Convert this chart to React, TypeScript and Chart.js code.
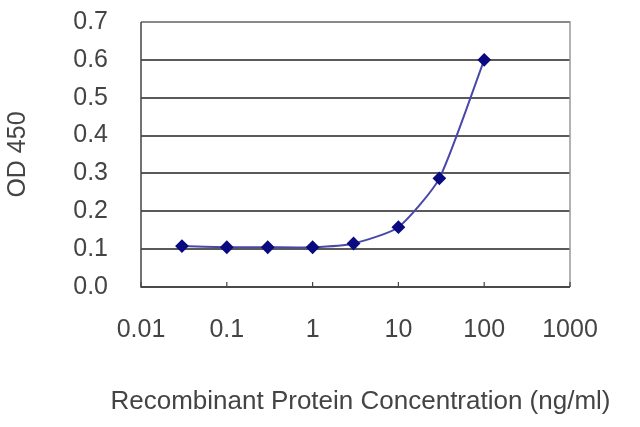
import React, { useEffect, useRef } from "react";
import { Chart, registerables } from "chart.js";

Chart.register(...registerables);

const concentrations = [0.03, 0.1, 0.3, 1, 3, 10, 30, 100];
const odValues = [0.108, 0.105, 0.105, 0.105, 0.115, 0.158, 0.287, 0.6];
const xTickValues = [0.01, 0.1, 1, 10, 100, 1000];
const xTickLabels = ["0.01", "0.1", "1", "10", "100", "1000"];
const yTickLabels = ["0.0", "0.1", "0.2", "0.3", "0.4", "0.5", "0.6", "0.7"];
const xTitle = "Recombinant Protein Concentration (ng/ml)";
const yTitle = "OD 450";

const FONT = "'Liberation Sans', Arial, sans-serif";
const TEXT = "#444";

const framePlugin = {
  id: "frame",
  afterDatasetsDraw(chart: any) {
    const { ctx, chartArea } = chart;
    const x = chart.scales.x;
    ctx.save();
    ctx.strokeStyle = "#999";
    ctx.lineWidth = 1.5;
    ctx.beginPath();
    ctx.moveTo(chartArea.left, chartArea.top);
    ctx.lineTo(chartArea.right, chartArea.top);
    ctx.lineTo(chartArea.right, chartArea.bottom);
    ctx.stroke();
    ctx.strokeStyle = "#444";
    ctx.beginPath();
    ctx.moveTo(chartArea.left, chartArea.top);
    ctx.lineTo(chartArea.left, chartArea.bottom);
    ctx.lineTo(chartArea.right, chartArea.bottom);
    ctx.stroke();
    ctx.lineWidth = 1.2;
    xTickValues.forEach((v) => {
      const px = x.getPixelForValue(v);
      ctx.beginPath();
      ctx.moveTo(px, chartArea.bottom);
      ctx.lineTo(px, chartArea.bottom - 5);
      ctx.stroke();
    });
    // x-axis title, allowed to run past the plot area like the reference
    ctx.fillStyle = TEXT;
    ctx.font = `26px ${FONT}`;
    ctx.textAlign = "center";
    ctx.textBaseline = "middle";
    ctx.fillText(xTitle, (chartArea.left + chartArea.right) / 2 + 5, chartArea.bottom + 115);
    ctx.restore();
  },
};

export default function App() {
  const ref = useRef<HTMLCanvasElement | null>(null);

  useEffect(() => {
    if (!ref.current) return;
    const chart = new Chart(ref.current, {
      type: "line",
      data: {
        datasets: [
          {
            data: concentrations.map((c, i) => ({ x: c, y: odValues[i] })),
            borderColor: "#4848a8",
            borderWidth: 2,
            backgroundColor: "#0a0a80",
            pointBackgroundColor: "#0a0a80",
            pointBorderColor: "#0a0a80",
            pointStyle: "rectRot",
            pointRadius: 5.5,
            tension: 0.2,
            fill: false,
          },
        ],
      },
      options: {
        animation: false,
        responsive: false,
        devicePixelRatio: 1,
        layout: { padding: { top: 22, right: 70, bottom: 0, left: 0 } },
        plugins: { legend: { display: false }, tooltip: { enabled: false } },
        scales: {
          x: {
            type: "logarithmic",
            min: 0.01,
            max: 1000,
            afterBuildTicks: (scale: any) => {
              scale.ticks = xTickValues.map((v) => ({ value: v }));
            },
            afterFit: (scale: any) => {
              scale.height = 140;
            },
            grid: {
              drawOnChartArea: false,
              drawTicks: true,
              tickLength: 28,
              tickColor: "rgba(0,0,0,0)",
              color: "rgba(0,0,0,0)",
            },
            border: { display: false },
            ticks: {
              autoSkip: false,
              maxRotation: 0,
              padding: 0,
              color: TEXT,
              font: { family: FONT, size: 25 },
              callback: (v: any) => {
                const i = xTickValues.indexOf(Number(v));
                return i >= 0 ? xTickLabels[i] : "";
              },
            },
            title: { display: false },
          },
          y: {
            min: 0,
            max: 0.7,
            afterFit: (scale: any) => {
              scale.width = 141;
            },
            grid: {
              color: "#5a5a5a",
              lineWidth: 2,
              drawTicks: true,
              tickLength: 33,
              tickColor: "rgba(0,0,0,0)",
            },
            border: { display: false },
            ticks: {
              stepSize: 0.1,
              padding: 0,
              color: TEXT,
              font: { family: FONT, size: 25 },
              callback: (v: any) => {
                const i = Math.round(Number(v) * 10);
                return yTickLabels[i] ?? "";
              },
            },
            title: {
              display: true,
              text: yTitle,
              color: TEXT,
              font: { family: FONT, size: 25 },
              padding: { top: 3, bottom: 0 },
            },
          },
        },
      },
      plugins: [framePlugin],
    } as any);
    return () => chart.destroy();
  }, []);

  return (
    <div style={{ position: "fixed", left: 0, top: 0, width: 640, height: 427, background: "#fff" }}>
      <canvas ref={ref} width={640} height={427} style={{ width: 640, height: 427, display: "block" }} />
    </div>
  );
}
